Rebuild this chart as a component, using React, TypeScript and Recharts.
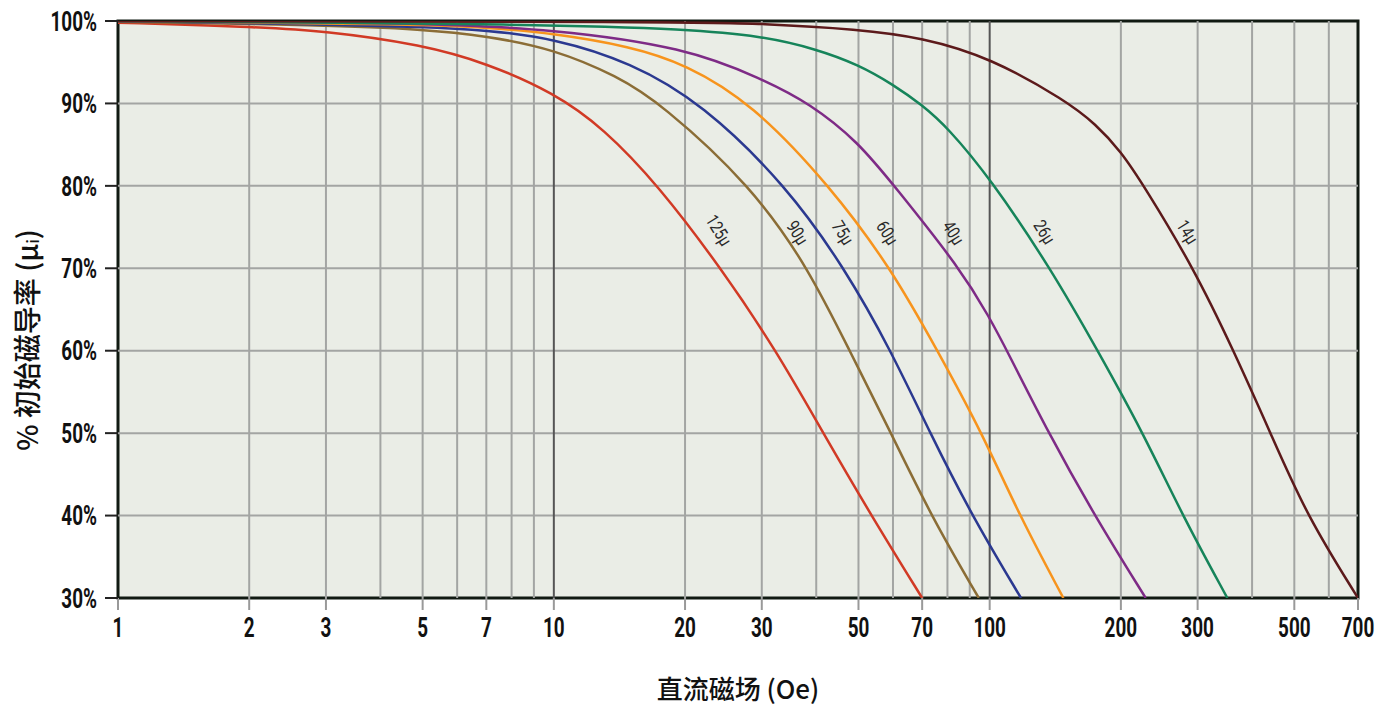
import {
  LineChart,
  Line,
  XAxis,
  YAxis,
  ReferenceLine,
  ReferenceArea,
  ReferenceDot,
} from "recharts";

// DC bias curves: H (Oe) vs % of initial permeability, one array per material grade.
const mu125 = [
  { h: 1, p: 99.8 }, { h: 2, p: 99.3 }, { h: 3, p: 98.8 }, { h: 5, p: 97.1 },
  { h: 7, p: 94.9 }, { h: 10, p: 91.3 }, { h: 13, p: 87 }, { h: 17.4, p: 80 },
  { h: 24.2, p: 70 }, { h: 32.4, p: 60 }, { h: 41.5, p: 50 }, { h: 53.5, p: 40 },
  { h: 70, p: 30 },
];
const mu90 = [
  { h: 1, p: 99.9 }, { h: 3, p: 99.5 }, { h: 5, p: 99.0 }, { h: 7, p: 98.2 },
  { h: 10, p: 96.6 }, { h: 14, p: 93.3 }, { h: 17.6, p: 90 }, { h: 28.4, p: 80 },
  { h: 38.4, p: 70 }, { h: 47.7, p: 60 }, { h: 59.4, p: 50 }, { h: 73.3, p: 40 },
  { h: 94.4, p: 30 },
];
const mu75 = [
  { h: 1, p: 100 }, { h: 3, p: 99.6 }, { h: 5, p: 99.3 }, { h: 7, p: 98.9 },
  { h: 10, p: 97.9 }, { h: 15, p: 95 }, { h: 21.9, p: 90 }, { h: 34.2, p: 80 },
  { h: 46.5, p: 70 }, { h: 59.4, p: 60 }, { h: 73, p: 50 }, { h: 91, p: 40 },
  { h: 118, p: 30 },
];
const mu60 = [
  { h: 1, p: 100 }, { h: 5, p: 99.6 }, { h: 7, p: 99.2 }, { h: 10, p: 98.5 },
  { h: 15, p: 96.9 }, { h: 20, p: 94.8 }, { h: 28.5, p: 90 }, { h: 43, p: 80 },
  { h: 59.4, p: 70 }, { h: 75.9, p: 60 }, { h: 96.1, p: 50 }, { h: 117, p: 40 },
  { h: 147.6, p: 30 },
];
const mu40 = [
  { h: 1, p: 100 }, { h: 5, p: 99.8 }, { h: 10, p: 99.0 }, { h: 20, p: 96.8 },
  { h: 30, p: 93.0 }, { h: 38.7, p: 90 }, { h: 50, p: 85.3 }, { h: 60.4, p: 80 },
  { h: 85.5, p: 70 }, { h: 100, p: 64.0 }, { h: 109.6, p: 60 }, { h: 136.5, p: 50 },
  { h: 174, p: 40 }, { h: 228, p: 30 },
];
const mu26 = [
  { h: 1, p: 100 }, { h: 10, p: 99.6 }, { h: 20, p: 99.0 }, { h: 30, p: 98.2 },
  { h: 40, p: 96.6 }, { h: 50, p: 94.7 }, { h: 60, p: 92.3 }, { h: 70, p: 89.8 },
  { h: 80, p: 87.1 }, { h: 100, p: 81.0 }, { h: 138, p: 70 }, { h: 177, p: 60 },
  { h: 225, p: 50 }, { h: 277, p: 40 }, { h: 351, p: 30 },
];
const mu14 = [
  { h: 1, p: 100 }, { h: 20, p: 99.9 }, { h: 30, p: 99.7 }, { h: 50, p: 99.0 },
  { h: 70, p: 98.0 }, { h: 100, p: 95.6 }, { h: 150, p: 90.3 }, { h: 175, p: 87.5 },
  { h: 200, p: 84.2 }, { h: 226, p: 80 }, { h: 294, p: 70 }, { h: 363, p: 60 },
  { h: 441, p: 50 }, { h: 534, p: 40 }, { h: 700, p: 30 },
];

const series = [
  { name: "125µ", data: mu125, color: "#d13a25", lx: 23.9, ly: 74.6 },
  { name: "90µ", data: mu90, color: "#8b6d36", lx: 36.2, ly: 74.3 },
  { name: "75µ", data: mu75, color: "#2b3990", lx: 46, ly: 74.3 },
  { name: "60µ", data: mu60, color: "#f7941d", lx: 58.2, ly: 74.3 },
  { name: "40µ", data: mu40, color: "#7e2b86", lx: 82.5, ly: 74.3 },
  { name: "26µ", data: mu26, color: "#16845a", lx: 133.5, ly: 74.4 },
  { name: "14µ", data: mu14, color: "#5c1a1b", lx: 284, ly: 74.4 },
];

const xTicks = [1, 2, 3, 5, 7, 10, 20, 30, 50, 70, 100, 200, 300, 500, 700];
const xGrid = [2, 3, 4, 5, 6, 7, 8, 9, 20, 30, 40, 50, 60, 70, 80, 90, 200, 300, 400, 500, 600];
const xMajor = [10, 100];
const yTicks = [30, 40, 50, 60, 70, 80, 90, 100];

const NUM_FONT = "Roboto, 'Liberation Sans', sans-serif";
const CJK_FONT = "'Noto Sans CJK SC', sans-serif";

function XTick({ x, y, payload }: any) {
  return (
    <g transform={`translate(${x},${y})`}>
      <text transform="scale(0.7,1)" textAnchor="middle" dy="0.78em" fontSize={27} fontFamily={NUM_FONT} fontWeight={700} fill="#111">
        {payload.value}
      </text>
    </g>
  );
}

function YTick({ x, y, payload }: any) {
  return (
    <g transform={`translate(${x},${y})`}>
      <text transform="scale(0.7,1)" textAnchor="end" dy="0.36em" fontSize={27} fontFamily={NUM_FONT} fontWeight={700} fill="#111">
        {`${payload.value}%`}
      </text>
    </g>
  );
}

function CurveLabel({ viewBox, text }: any) {
  const cx = viewBox.x + (viewBox.width || 0) / 2;
  const cy = viewBox.y + (viewBox.height || 0) / 2;
  return (
    <g transform={`translate(${cx},${cy}) rotate(58)`}>
      <text transform="scale(0.8,1)" textAnchor="middle" dominantBaseline="central" fontSize={18} fontFamily={NUM_FONT} fill="#2a2a2a">
        {text}
      </text>
    </g>
  );
}

function YTitle() {
  return (
    <text
      transform="translate(26,340) rotate(-90)"
      textAnchor="middle"
      dominantBaseline="central"
      fontSize={28}
      fontFamily={CJK_FONT}
      fontWeight={500}
      fill="#111"
    >
      % 初始磁导率 (μ<tspan fontSize={16} dy={6}>i</tspan>
      <tspan dy={-6}>)</tspan>
    </text>
  );
}

function XTitle() {
  return (
    <text x={738} y={687} textAnchor="middle" dominantBaseline="central" fontSize={26} fontFamily={CJK_FONT} fontWeight={500} fill="#111">
      直流磁场 (Oe)
    </text>
  );
}

export default function App() {
  return (
    <div style={{ position: "absolute", left: 0, top: 0, background: "#fff" }}>
      <LineChart width={1380} height={706} margin={{ top: 21, right: 22, bottom: 0, left: 0 }}>
        <XAxis
          dataKey="h"
          type="number"
          scale="log"
          domain={[1, 700]}
          ticks={xTicks}
          allowDataOverflow
          height={108}
          tickSize={12}
          tickMargin={6}
          tick={<XTick />}
          tickLine={{ stroke: "#999", strokeWidth: 2 }}
          axisLine={false}
          label={<XTitle />}
        />
        <YAxis
          type="number"
          domain={[30, 100]}
          ticks={yTicks}
          allowDataOverflow
          width={118}
          tickSize={13}
          tickMargin={8}
          tick={<YTick />}
          tickLine={{ stroke: "#222", strokeWidth: 2 }}
          axisLine={false}
          label={<YTitle />}
        />
        <ReferenceArea x1={1} x2={700} y1={30} y2={100} fill="#eaede6" fillOpacity={1} stroke="none" />
        {xGrid.map((v) => (
          <ReferenceLine key={`gx${v}`} x={v} stroke="#a3a5a3" strokeWidth={2} />
        ))}
        {yTicks.slice(1, -1).map((v) => (
          <ReferenceLine key={`gy${v}`} y={v} stroke="#a3a5a3" strokeWidth={2} />
        ))}
        {xMajor.map((v) => (
          <ReferenceLine key={`mx${v}`} x={v} stroke="#555" strokeWidth={2} />
        ))}
        {series.map((s) => (
          <Line
            key={s.name}
            data={s.data}
            dataKey="p"
            name={s.name}
            type="basis"
            stroke={s.color}
            strokeWidth={2.5}
            dot={false}
            activeDot={false}
            isAnimationActive={false}
          />
        ))}
        {series.map((s) => (
          <ReferenceDot
            key={`l${s.name}`}
            x={s.lx}
            y={s.ly}
            r={0}
            fill="none"
            stroke="none"
            label={<CurveLabel text={s.name} />}
          />
        ))}
        <ReferenceArea x1={1} x2={700} y1={30} y2={100} fill="none" stroke="#111a12" strokeWidth={3} />
      </LineChart>
    </div>
  );
}
